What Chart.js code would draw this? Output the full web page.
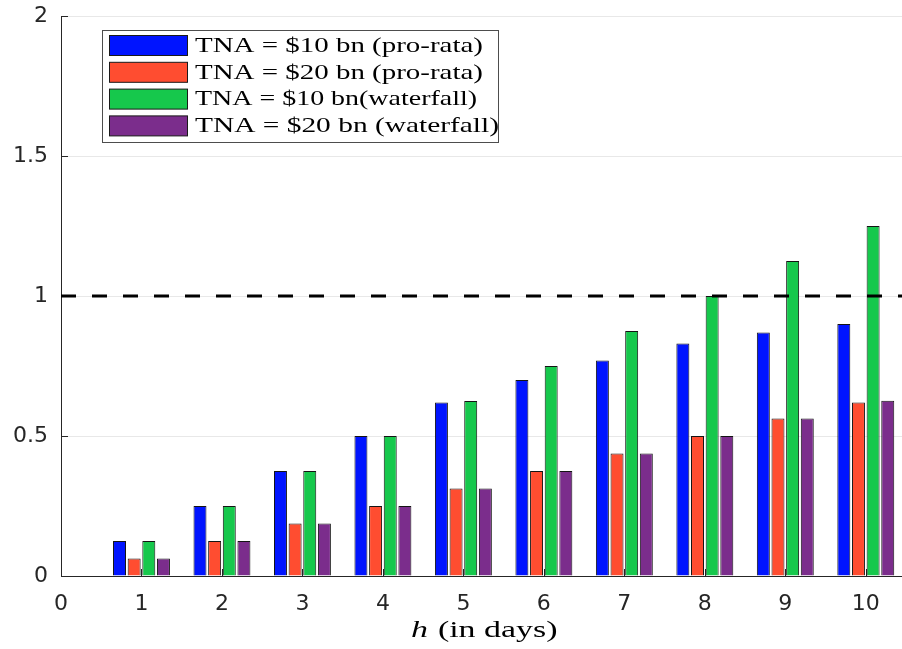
<!DOCTYPE html>
<html>
<head>
<meta charset="utf-8">
<script src="https://cdn.jsdelivr.net/npm/chart.js@4/dist/chart.umd.min.js"></script>
<style>
  html, body { margin: 0; padding: 0; background: #fff; }
  #c { display: block; }
</style>
</head>
<body>
<canvas id="c" width="902" height="649"></canvas>
<script>
// Horizon in days and the ratio for each fund size / liquidation rule
const days = [1, 2, 3, 4, 5, 6, 7, 8, 9, 10];
const proRata10 = [0.125, 0.25, 0.375, 0.5, 0.62, 0.70, 0.77, 0.83, 0.87, 0.90];
const proRata20 = [0.0625, 0.125, 0.1875, 0.25, 0.3125, 0.375, 0.4375, 0.5, 0.5625, 0.62];
const waterfall10 = [0.125, 0.25, 0.375, 0.5, 0.625, 0.75, 0.875, 1.0, 1.125, 1.25];
const waterfall20 = [0.0625, 0.125, 0.1875, 0.25, 0.3125, 0.375, 0.4375, 0.5, 0.5625, 0.626];
const seriesLabels = [
  'TNA = $10 bn (pro-rata)',
  'TNA = $20 bn (pro-rata)',
  'TNA = $10 bn(waterfall)',
  'TNA = $20 bn (waterfall)'
];
const threshold = 1;
const xTicks = [0, 1, 2, 3, 4, 5, 6, 7, 8, 9, 10];
const yTicks = [0, 0.5, 1, 1.5, 2];
const xRange = [0, 10.45];
const yRange = [0, 2];
const axisCenter = 5.25;

const colors = ['#0014ff', '#ff4d30', '#16c84c', '#7b2d8c'];
const seriesValues = [proRata10, proRata20, waterfall10, waterfall20];

const toPoints = vals => days.map((d, i) => ({ x: d, y: vals[i] }));

const barSets = seriesValues.map((vals, k) => ({
  type: 'bar',
  label: seriesLabels[k],
  data: toPoints(vals),
  backgroundColor: colors[k],
  borderColor: '#141414',
  borderWidth: 1,
  barPercentage: 0.886,
  categoryPercentage: 0.728,
  order: 1
}));

const thresholdLine = {
  type: 'line',
  label: 'threshold',
  data: [{ x: xRange[0], y: threshold }, { x: xRange[1], y: threshold }],
  borderColor: '#000',
  borderWidth: 3,
  borderDash: [15, 16],
  pointRadius: 0,
  fill: false,
  order: 0
};

const axisColor = '#262626';
const tickFont = { family: '"DejaVu Sans"', size: 22 };

// Short tick marks pointing into the plot
const innerTicks = {
  id: 'innerTicks',
  beforeDatasetsDraw(chart) {
    const { ctx, chartArea: a, scales: { x, y } } = chart;
    ctx.save();
    ctx.strokeStyle = axisColor;
    ctx.lineWidth = 1;
    y.ticks.forEach(t => {
      const py = Math.round(y.getPixelForValue(t.value)) + 0.5;
      ctx.beginPath(); ctx.moveTo(a.left, py); ctx.lineTo(a.left + 7, py); ctx.stroke();
    });
    x.ticks.forEach(t => {
      const px = Math.round(x.getPixelForValue(t.value)) + 0.5;
      ctx.beginPath(); ctx.moveTo(px, a.bottom); ctx.lineTo(px, a.bottom - 7); ctx.stroke();
    });
    ctx.restore();
  }
};

// Boxed legend inside the plot, upper left
const boxLegend = {
  id: 'boxLegend',
  afterDraw(chart) {
    const ctx = chart.ctx;
    const sets = chart.data.datasets.filter(d => d.type === 'bar');
    const bx = 102.5, by = 30.5, bw = 396, bh = 112;
    ctx.save();
    ctx.fillStyle = '#fff';
    ctx.fillRect(bx, by, bw, bh);
    ctx.strokeStyle = '#4d4d4d';
    ctx.lineWidth = 1;
    ctx.strokeRect(bx, by, bw, bh);
    ctx.font = '21px "Liberation Serif"';
    ctx.textBaseline = 'alphabetic';
    ctx.textAlign = 'left';
    sets.forEach((d, i) => {
      const ry = 35.5 + i * 26.8;
      ctx.fillStyle = d.backgroundColor;
      ctx.fillRect(109.5, ry, 78, 20);
      ctx.strokeStyle = '#1a1a1a';
      ctx.strokeRect(109.5, ry, 78, 20);
      ctx.fillStyle = '#000';
      const w = ctx.measureText(d.label).width;
      const target = d.label.indexOf('waterfall') > 0 ? (i === 2 ? 282 : 304) : 288;
      ctx.save();
      ctx.translate(195, 51.7 + i * 26.8);
      ctx.scale(target / w, 1);
      ctx.fillText(d.label, 0, 0);
      ctx.restore();
    });
    ctx.restore();
  }
};

// Axis title: italic h followed by upright text
const xTitle = {
  id: 'xTitle',
  afterDraw(chart) {
    const { ctx, scales: { x } } = chart;
    ctx.save();
    ctx.fillStyle = '#000';
    ctx.textBaseline = 'alphabetic';
    const italic = 'italic 23px "Liberation Serif"';
    const upright = '23px "Liberation Serif"';
    const rest = ' (in days)';
    ctx.font = italic; const w1 = ctx.measureText('h').width;
    ctx.font = upright; const w2 = ctx.measureText(rest).width;
    const sx = 145 / (w1 + w2);
    const cx = x.getPixelForValue(axisCenter);
    ctx.translate(cx - 145 / 2, 637);
    ctx.scale(sx, 1);
    ctx.font = italic; ctx.fillText('h', 0, 0);
    ctx.font = upright; ctx.fillText(rest, w1 + 1, 0);
    ctx.restore();
  }
};

new Chart(document.getElementById('c'), {
  data: { datasets: [...barSets, thresholdLine] },
  options: {
    responsive: false,
    devicePixelRatio: 1,
    animation: false,
    layout: { padding: { left: 0, right: 0, top: 16, bottom: 0 } },
    plugins: { legend: { display: false }, tooltip: { enabled: false } },
    scales: {
      x: {
        type: 'linear',
        offset: false,
        min: xRange[0],
        max: xRange[1],
        afterBuildTicks: s => { s.ticks = xTicks.map(v => ({ value: v })); },
        afterFit: s => { s.height = 73; s.paddingLeft = 0; s.paddingRight = 0; },
        grid: { display: false, drawTicks: false, offset: false },
        border: { display: true, color: axisColor, width: 1 },
        ticks: { font: tickFont, color: '#262626', padding: 15, maxRotation: 0, callback: v => String(v) }
      },
      y: {
        type: 'linear',
        min: yRange[0],
        max: yRange[1],
        afterBuildTicks: s => { s.ticks = yTicks.map(v => ({ value: v })); },
        afterFit: s => { s.width = 61; s.paddingTop = 0; s.paddingBottom = 0; },
        grid: { display: true, color: '#e8e8e8', drawTicks: false },
        border: { display: true, color: axisColor, width: 1 },
        ticks: { font: tickFont, color: '#262626', padding: 13, callback: v => String(v) }
      }
    }
  },
  plugins: [innerTicks, boxLegend, xTitle]
});
</script>
</body>
</html>
